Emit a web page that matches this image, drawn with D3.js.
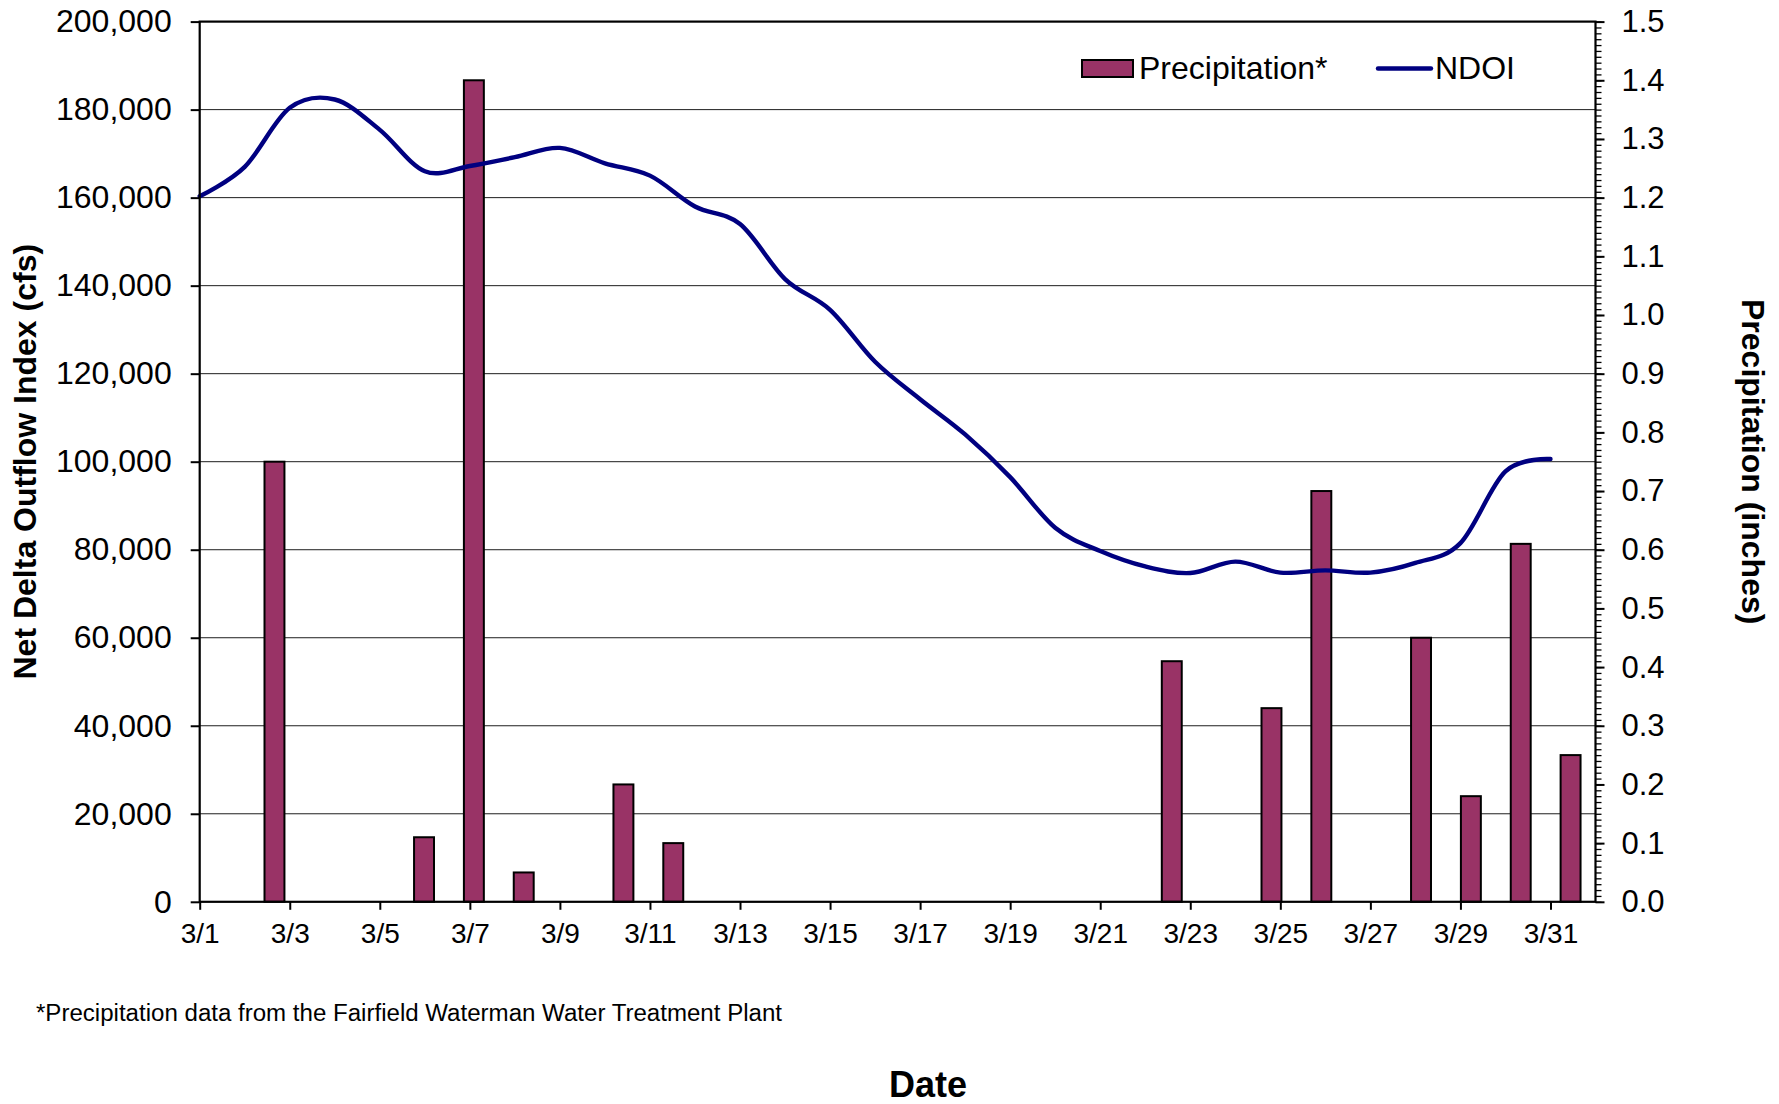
<!DOCTYPE html>
<html>
<head>
<meta charset="utf-8">
<script src="https://cdn.jsdelivr.net/npm/d3@7"></script>
<style>
  html, body { margin: 0; padding: 0; background: #fff; }
  svg { display: block; font-family: "Liberation Sans", Arial, sans-serif; }
</style>
</head>
<body>
<svg id="chart" width="1779" height="1104"></svg>
<script>
// Day of month for each NDOI reading (March)
const days = [1,2,3,4,5,6,7,8,9,10,11,12,13,14,15,16,17,18,19,20,21,22,23,24,25,26,27,28,29,30,31];
// Net Delta Outflow Index, cfs
const ndoi = [160300,167000,180400,182300,175400,166000,167200,169200,171300,167800,
              165000,158000,154000,141500,134500,122700,114200,106200,96500,85000,
              79700,76200,74700,77300,74800,75300,74800,77000,81500,97800,100600];
// Precipitation record slots (inches), plotted on the secondary category axis
const precipSlots = [0,1,2,3,4,5,6,7,8,9,10,11,12,13,14,15,16,17,18,19,20,21,22,23,24,25,26,27];
const precip = [0,0.75,0,0,0.11,1.40,0.05,0,0.20,0.10,0,0,0,0,0,0,0,0,0,0.41,0,0.33,0.70,0,0.45,0.18,0.61,0.25];
// Axis ticks
const xTickDays = [1,3,5,7,9,11,13,15,17,19,21,23,25,27,29,31];
const xTickLabels = ["3/1","3/3","3/5","3/7","3/9","3/11","3/13","3/15","3/17","3/19","3/21","3/23","3/25","3/27","3/29","3/31"];
const leftTicks = [0,20000,40000,60000,80000,100000,120000,140000,160000,180000,200000];
const rightTicks = [0,0.1,0.2,0.3,0.4,0.5,0.6,0.7,0.8,0.9,1.0,1.1,1.2,1.3,1.4,1.5];

const plot = { left: 199.7, right: 1595.5, top: 21.6, bottom: 901.8 };
const svg = d3.select("#chart");

const x = d3.scaleLinear().domain([1, 32]).range([plot.left, plot.right]);
const xBand = d3.scaleBand().domain(precipSlots).range([plot.left, plot.right])
  .paddingInner(0.6).paddingOuter(0.3);
const yL = d3.scaleLinear().domain([0, 200000]).range([plot.bottom, plot.top]);
const yR = d3.scaleLinear().domain([0, 1.5]).range([plot.bottom, plot.top]);

// Horizontal gridlines
svg.append("g").selectAll("line").data(leftTicks.slice(1, -1)).join("line")
  .attr("x1", plot.left).attr("x2", plot.right)
  .attr("y1", d => yL(d)).attr("y2", d => yL(d))
  .attr("stroke", "#1e1e1e").attr("stroke-width", 1);

// Precipitation bars
svg.append("g").selectAll("rect").data(precipSlots.filter(i => precip[i] > 0)).join("rect")
  .attr("x", i => xBand(i))
  .attr("width", xBand.bandwidth())
  .attr("y", i => yR(precip[i]))
  .attr("height", i => yR(0) - yR(precip[i]))
  .attr("fill", "#993366").attr("stroke", "#000").attr("stroke-width", 2);

// NDOI smoothed line
const line = d3.line().x((d, i) => x(days[i])).y(d => yL(d)).curve(d3.curveCatmullRom.alpha(0));
svg.append("path").datum(ndoi).attr("d", line)
  .attr("fill", "none").attr("stroke", "#000080").attr("stroke-width", 4.4)
  .attr("stroke-linejoin", "round").attr("stroke-linecap", "round");

// Axes
function styleAxis(g, fontSize) {
  g.selectAll(".domain").remove();
  g.selectAll(".tick line").attr("stroke", "#000").attr("stroke-width", 2);
  g.selectAll("text").attr("fill", "#000").attr("font-size", fontSize)
    .attr("font-family", "Liberation Sans, Arial, sans-serif");
}

const gLeft = svg.append("g").attr("transform", `translate(${plot.left},0)`)
  .call(d3.axisLeft(yL).tickValues(leftTicks).tickFormat(d3.format(",")).tickSize(9).tickPadding(19));
styleAxis(gLeft, 32);

const gRightMinor = svg.append("g").attr("transform", `translate(${plot.right},0)`)
  .call(d3.axisRight(yR).tickValues(d3.range(0, 151).map(v => v / 100)).tickFormat("").tickSize(6));
styleAxis(gRightMinor, 0);
gRightMinor.selectAll(".tick line").attr("stroke-width", 1.3);

const gRight = svg.append("g").attr("transform", `translate(${plot.right},0)`)
  .call(d3.axisRight(yR).tickValues(rightTicks).tickFormat(d3.format(".1f")).tickSize(9).tickPadding(17));
styleAxis(gRight, 31);

const gBottom = svg.append("g").attr("transform", `translate(0,${plot.bottom})`)
  .call(d3.axisBottom(x).tickValues(xTickDays).tickFormat((d, i) => xTickLabels[i]).tickSize(8).tickPadding(13));
styleAxis(gBottom, 28);

// Plot frame
svg.append("rect")
  .attr("x", plot.left).attr("y", plot.top)
  .attr("width", plot.right - plot.left).attr("height", plot.bottom - plot.top)
  .attr("fill", "none").attr("stroke", "#000").attr("stroke-width", 2.2);

// Axis titles
svg.append("text")
  .attr("transform", `translate(36,${(plot.top + plot.bottom) / 2}) rotate(-90)`)
  .attr("text-anchor", "middle").attr("font-size", 32).attr("font-weight", "bold")
  .text("Net Delta Outflow Index (cfs)");
svg.append("text")
  .attr("transform", `translate(1742,${(plot.top + plot.bottom) / 2}) rotate(90)`)
  .attr("text-anchor", "middle").attr("font-size", 32).attr("font-weight", "bold")
  .text("Precipitation (inches)");
svg.append("text")
  .attr("x", 928).attr("y", 1097)
  .attr("text-anchor", "middle").attr("font-size", 36).attr("font-weight", "bold")
  .text("Date");

// Footnote
svg.append("text")
  .attr("x", 36).attr("y", 1021)
  .attr("font-size", 23)
  .attr("textLength", 746).attr("lengthAdjust", "spacingAndGlyphs")
  .text("*Precipitation data from the Fairfield Waterman Water Treatment Plant");

// Legend
const legend = svg.append("g");
legend.append("rect").attr("x", 1082).attr("y", 60).attr("width", 51).attr("height", 17)
  .attr("fill", "#993366").attr("stroke", "#000").attr("stroke-width", 2);
legend.append("text").attr("x", 1139).attr("y", 79).attr("font-size", 32).text("Precipitation*");
legend.append("line").attr("x1", 1378).attr("x2", 1431).attr("y1", 68.5).attr("y2", 68.5)
  .attr("stroke", "#000080").attr("stroke-width", 4.4).attr("stroke-linecap", "round");
legend.append("text").attr("x", 1435).attr("y", 79).attr("font-size", 32).text("NDOI");
</script>
</body>
</html>
